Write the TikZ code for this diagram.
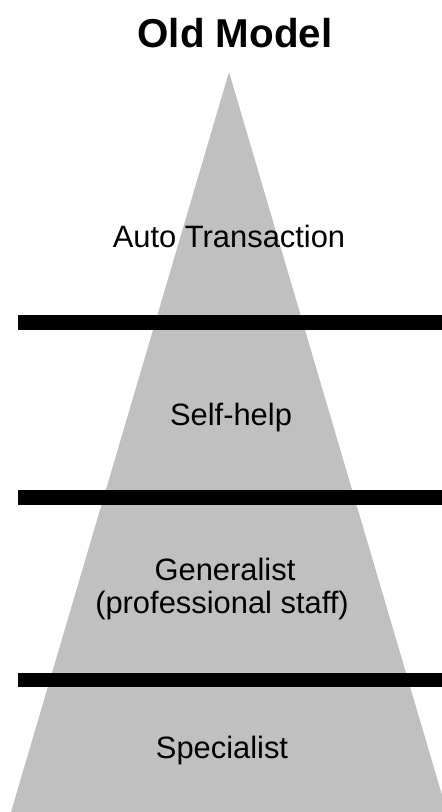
\documentclass[tikz,border=0pt]{standalone}
\usepackage{fontspec}
\setmainfont{Liberation Sans}
\definecolor{pyr}{HTML}{C0C0C0}
\begin{document}
\begin{tikzpicture}[x=1bp,y=-1bp,
  lbl/.style={inner sep=0pt, anchor=base, font=\fontsize{31}{34}\selectfont, align=center},
  ttl/.style={inner sep=0pt, anchor=base, font=\fontsize{40.5}{44}\bfseries\selectfont},
  bar/.style={fill=black, draw=none}]
\useasboundingbox (0,0) rectangle (442,812);
\fill[pyr] (229,72) coordinate (apex) -- (11,812) coordinate (bl) -- (447,812) coordinate (br) -- cycle;
\fill[bar] (18,315) rectangle (442,330);
\fill[bar] (18,490) rectangle (442,505);
\fill[bar] (18,673) rectangle (442,687);
\node[ttl] (title) at (235,48) {Old Model};
\node[lbl] (auto) at (229,247) {Auto Transaction};
\node[lbl] (self) at (231,425) {Self-help};
\node[lbl] (gen) at (225,580) {Generalist};
\node[lbl] (prof) at (222,613) {(professional staff)};
\node[lbl] (spec) at (222,758) {Specialist};
\end{tikzpicture}
\end{document}
